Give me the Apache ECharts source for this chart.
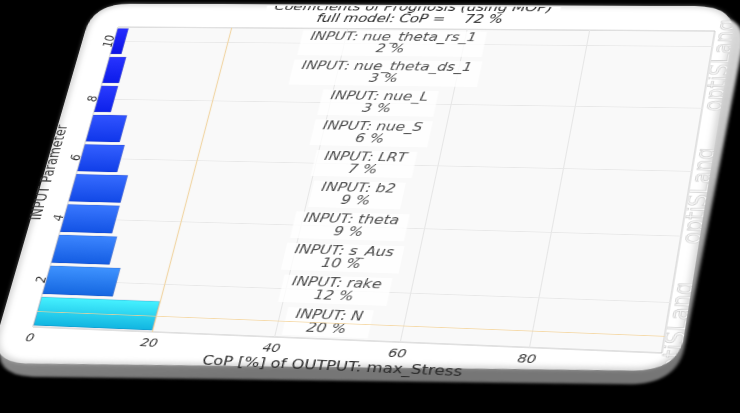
<!DOCTYPE html>
<html>
<head>
<meta charset="utf-8">
<script src="https://cdn.jsdelivr.net/npm/echarts@6/dist/echarts.min.js"></script>
<style>
  html, body { margin: 0; padding: 0; width: 740px; height: 413px; background: #000; overflow: hidden; }
  #card { position: absolute; left: 0; top: 0; width: 700px; height: 520px; transform-origin: 0 0; }
  #panel { position: absolute; left: 0; top: 0; }
  #chart { position: absolute; left: 0; top: 0; width: 700px; height: 520px; clip-path: inset(9px 0 0 0); }
</style>
</head>
<body>
<div id="card">
  <svg id="panel" width="700" height="520" xmlns="http://www.w3.org/2000/svg">
    <defs>
      <linearGradient id="edgeShade" x1="0" y1="0" x2="0.25" y2="1">
        <stop offset="0" stop-color="#e8e8e8"/>
        <stop offset="0.6" stop-color="#c2c2c2"/>
        <stop offset="1" stop-color="#767676"/>
      </linearGradient>
      <filter id="soft1" x="-5%" y="-5%" width="110%" height="110%"><feGaussianBlur stdDeviation="1.5"/></filter>
      <filter id="soft3" x="-5%" y="-5%" width="110%" height="110%"><feGaussianBlur stdDeviation="3"/></filter>
      <clipPath id="faceClip"><path id="faceClipPath"/></clipPath>
    </defs>
    <path id="thick" fill="url(#edgeShade)" filter="url(#soft1)"/>
    <path id="rim" fill="#d4d4d4"/>
    <path id="face" fill="#ffffff" filter="url(#soft3)"/>
    <g clip-path="url(#faceClip)">
      <text id="brand" font-family="DejaVu Sans" font-size="24"
            fill="#f6f6f6" stroke="#cfcfcf" stroke-width="0.8" text-anchor="middle" dominant-baseline="central"
            xml:space="preserve">optiSLang      optiSLang      optiSLang</text>
    </g>
  </svg>
  <div id="chart"></div>
</div>
<script>
// CoP per input parameter, listed from parameter 1 (bottom) to 10 (top)
const categories = ['1', '2', '3', '4', '5', '6', '7', '8', '9', '10'];
const parameterNames = ['N', 'rake', 's_Aus', 'theta', 'b2', 'LRT', 'nue_S', 'nue_L', 'nue_theta_ds_1', 'nue_theta_rs_1'];
const copValues = [20, 12, 10, 9, 9, 7, 6, 3, 3, 2];
const yTickLabels = ['2', '4', '6', '8', '10'];
const fullModelCoP = 72;

// bar palette, cyan for the leading parameter then deepening blues
const barColors = [
  ['#46f2ff', '#10b4e0'],
  ['#3f93ff', '#1466e0'],
  ['#3d86ff', '#135ce2'],
  ['#3a78ff', '#1252e4'],
  ['#376cff', '#1148e6'],
  ['#3460ff', '#103ee8'],
  ['#3154ff', '#0f36ea'],
  ['#2a3cff', '#0c20ea'],
  ['#2834ff', '#0b1aea'],
  ['#262cff', '#0a12e6']
];

// plot rectangle in the card's own coordinates
const PLOT = { left: 50, top: 40, width: 600, height: 400 };
const L = PLOT.left, T = PLOT.top, R = PLOT.left + PLOT.width, B = PLOT.top + PLOT.height;

// rounded outline of the card face and of its shaded edge
function roundedPath(pts, r) {
  const n = pts.length;
  let d = '';
  for (let i = 0; i < n; i++) {
    const p0 = pts[(i + n - 1) % n], p1 = pts[i], p2 = pts[(i + 1) % n];
    const l1 = Math.hypot(p0[0] - p1[0], p0[1] - p1[1]);
    const l2 = Math.hypot(p2[0] - p1[0], p2[1] - p1[1]);
    const a = [p1[0] + (p0[0] - p1[0]) * r / l1, p1[1] + (p0[1] - p1[1]) * r / l1];
    const b = [p1[0] + (p2[0] - p1[0]) * r / l2, p1[1] + (p2[1] - p1[1]) * r / l2];
    d += (i === 0 ? 'M' : 'L') + a[0] + ',' + a[1] + ' Q' + p1[0] + ',' + p1[1] + ' ' + b[0] + ',' + b[1] + ' ';
  }
  return d + 'Z';
}
const facePts = [[16, 7], [667, 7], [667, 460], [16, 487]];
const thickPts = [[22, 16], [679, 18], [668, 476], [22, 503]];
document.getElementById('thick').setAttribute('d', roundedPath(thickPts, 44));
document.getElementById('rim').setAttribute('d', roundedPath(facePts, 40));
document.getElementById('faceClipPath').setAttribute('d', roundedPath(facePts, 40));
document.getElementById('face').setAttribute('d', roundedPath([[19, 9], [664, 9], [664, 457], [19, 484]], 38));
const brand = document.getElementById('brand');
const bx = R + 10, by = (T + B) / 2 + 10;
brand.setAttribute('x', bx);
brand.setAttribute('y', by);
brand.setAttribute('transform', `rotate(-90 ${bx} ${by})`);

// perspective: map the plot rectangle onto a tilted quadrilateral
function solve(A, b) {
  const n = b.length;
  for (let i = 0; i < n; i++) {
    let p = i;
    for (let r = i + 1; r < n; r++) if (Math.abs(A[r][i]) > Math.abs(A[p][i])) p = r;
    [A[i], A[p]] = [A[p], A[i]]; [b[i], b[p]] = [b[p], b[i]];
    for (let r = i + 1; r < n; r++) {
      const f = A[r][i] / A[i][i];
      for (let c = i; c < n; c++) A[r][c] -= f * A[i][c];
      b[r] -= f * b[i];
    }
  }
  const x = new Array(n);
  for (let i = n - 1; i >= 0; i--) {
    let s = b[i];
    for (let c = i + 1; c < n; c++) s -= A[i][c] * x[c];
    x[i] = s / A[i][i];
  }
  return x;
}
function homography(src, dst) {
  const A = [], b = [];
  for (let i = 0; i < 4; i++) {
    const [x, y] = src[i], [u, v] = dst[i];
    A.push([x, y, 1, 0, 0, 0, -u * x, -u * y]); b.push(u);
    A.push([0, 0, 0, x, y, 1, -v * x, -v * y]); b.push(v);
  }
  const h = solve(A, b);
  return `matrix3d(${h[0]},${h[3]},0,${h[6]},${h[1]},${h[4]},0,${h[7]},0,0,1,0,${h[2]},${h[5]},0,1)`;
}
document.getElementById('card').style.transform = homography(
  [[L, T], [R, T], [R, B], [L, B]],
  [[118, 27], [715, 31], [662, 353], [33, 327]]
);

const FONT = 'DejaVu Sans';
const chart = echarts.init(document.getElementById('chart'), null, { renderer: 'canvas' });

chart.setOption({
  animation: false,
  backgroundColor: 'transparent',
  title: {
    text: 'Coefficients of Prognosis (using MOP)\nfull model: CoP =    ' + fullModelCoP + ' %',
    left: 'center',
    top: 1,
    padding: [2, 8],
    backgroundColor: '#fff',
    textStyle: { fontFamily: FONT, fontSize: 15, fontStyle: 'italic', fontWeight: 'normal', color: '#2a2a2a', lineHeight: 16 }
  },
  grid: {
    left: PLOT.left, top: PLOT.top, width: PLOT.width, height: PLOT.height,
    show: true, backgroundColor: '#f9f9f9', borderColor: '#c4c4c4', borderWidth: 1
  },
  xAxis: {
    type: 'value', min: 0, max: 100, interval: 20,
    axisLine: { show: false }, axisTick: { show: false },
    axisLabel: { fontFamily: FONT, fontSize: 13.5, fontStyle: 'italic', color: '#3a3a3a', margin: 7, showMaxLabel: false },
    splitLine: { lineStyle: { color: '#e6e6e6', width: 1 } },
    name: 'CoP [%] of OUTPUT: max_Stress', nameLocation: 'middle', nameGap: 25, nameMoveOverlap: false,
    nameTextStyle: { fontFamily: FONT, fontSize: 15.5, color: '#2a2a2a' }
  },
  yAxis: {
    type: 'category', data: categories,
    axisLine: { show: false }, axisTick: { show: false },
    axisLabel: {
      interval: 0, rotate: 90, margin: -2,
      fontFamily: FONT, fontSize: 13.5, fontStyle: 'italic', color: '#3a3a3a',
      formatter: v => (yTickLabels.includes(v) ? v : '')
    },
    splitLine: { show: false },
    name: 'INPUT Parameter', nameLocation: 'middle', nameGap: 10, nameRotate: 90,
    nameTextStyle: { fontFamily: FONT, fontSize: 15, color: '#3a3a3a' }
  },
  series: [
    {
      type: 'scatter',
      symbolSize: 1,
      itemStyle: { color: 'transparent' },
      data: categories.map((c, i) => [48, i]),
      markLine: {
        silent: true, symbol: 'none', label: { show: false }, z: 1,
        lineStyle: { color: '#e8e8e8', width: 1, type: 'solid' },
        data: yTickLabels.map(v => ({ yAxis: v }))
      },
      label: {
        show: true, position: 'inside',
        formatter: p => 'INPUT: ' + parameterNames[p.dataIndex] + '\n' + copValues[p.dataIndex] + ' %',
        backgroundColor: '#fff', padding: [1, 9],
        fontFamily: FONT, fontSize: 15, fontStyle: 'italic', color: '#222', lineHeight: 16, align: 'center'
      },
      z: 1
    },
    {
      type: 'bar',
      barCategoryGap: '9%',
      data: copValues.map((v, i) => ({
        value: v,
        itemStyle: {
          color: new echarts.graphic.LinearGradient(0, 0, 0, 1, [
            { offset: 0, color: barColors[i][0] },
            { offset: 1, color: barColors[i][1] }
          ]),
          borderColor: 'rgba(30,40,120,0.35)', borderWidth: 0.6
        }
      })),
      markLine: {
        silent: true, symbol: 'none', label: { show: false },
        lineStyle: { color: 'rgba(244,210,150,0.8)', width: 1.2, type: 'solid' },
        data: [{ xAxis: copValues[0] }, { yAxis: categories[0] }]
      },
      z: 3
    }
  ]
});
</script>
</body>
</html>
